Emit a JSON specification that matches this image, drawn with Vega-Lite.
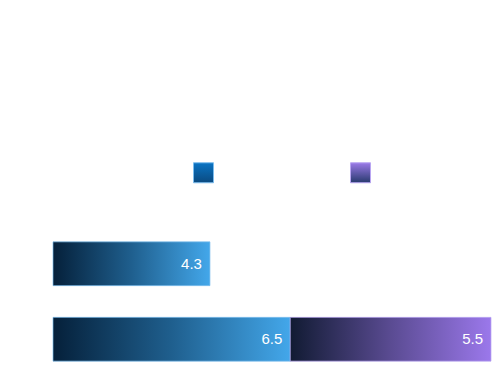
{
  "$schema": "https://vega.github.io/schema/vega-lite/v6.json",
  "width": 438,
  "height": 157,
  "autosize": {"type": "none"},
  "padding": {"left": 53, "top": 223, "right": 9, "bottom": 11},
  "background": "white",
  "config": {"view": {"stroke": null}},
  "data": {"values": [
    {"cat": "A", "series": "S1", "value": 4.3},
    {"cat": "B", "series": "S1", "value": 6.5},
    {"cat": "B", "series": "S2", "value": 5.5}
  ]},
  "encoding": {
    "y": {"field": "cat", "type": "nominal", "axis": null, "scale": {"paddingInner": 0.42, "paddingOuter": 0.25}},
    "x": {"field": "value", "type": "quantitative", "aggregate": "sum", "stack": "zero", "axis": null, "scale": {"domain": [0, 12], "nice": false}}
  },
  "layer": [
    {
      "mark": {"type": "bar", "strokeWidth": 1, "strokeOpacity": 0.7, "fillOpacity": 1},
      "encoding": {
        "fill": {
          "condition": {"test": "datum.series === 'S1'", "value": {"gradient": "linear", "x1": 0, "y1": 0, "x2": 1, "y2": 0, "stops": [{"offset": 0, "color": "#05203a"}, {"offset": 0.5, "color": "#1f5f8e"}, {"offset": 1, "color": "#43a7ea"}]}},
          "value": {"gradient": "linear", "x1": 0, "y1": 0, "x2": 1, "y2": 0, "stops": [{"offset": 0, "color": "#111b33"}, {"offset": 0.5, "color": "#5a4b92"}, {"offset": 1, "color": "#9b78eb"}]}
        },
        "stroke": {
          "field": "series", "type": "nominal",
          "scale": {"domain": ["S1", "S2"], "range": ["#7cbdee", "#b9a6f2"]},
          "legend": {
            "orient": "none", "legendX": 140, "legendY": -61, "direction": "horizontal",
            "title": null, "symbolType": "square", "symbolSize": 400,
            "labelExpr": "''", "columnPadding": 130, "labelOffset": 4,
            "symbolStrokeWidth": 1,
            "encoding": {"symbols": {
              "fill": {"condition": {"test": "datum.value === 'S1'", "value": {"gradient": "linear", "x1": 0, "y1": 0, "x2": 0, "y2": 1, "stops": [{"offset": 0, "color": "#0a74c4"}, {"offset": 1, "color": "#0b4a80"}]}},
                       "value": {"gradient": "linear", "x1": 0, "y1": 0, "x2": 0, "y2": 1, "stops": [{"offset": 0, "color": "#9b7ae8"}, {"offset": 1, "color": "#283a6e"}]}},
              "opacity": {"value": 1}
            }}
          }
        },
        "detail": {"field": "series"},
        "order": {"field": "series"}
      }
    },
    {
      "mark": {"type": "text", "align": "right", "dx": -8, "color": "white", "font": "Liberation Sans", "fontSize": 15},
      "encoding": {
        "detail": {"field": "series"},
        "order": {"field": "series"},
        "text": {"field": "value", "aggregate": "sum", "format": ".1f"}
      }
    }
  ]
}
